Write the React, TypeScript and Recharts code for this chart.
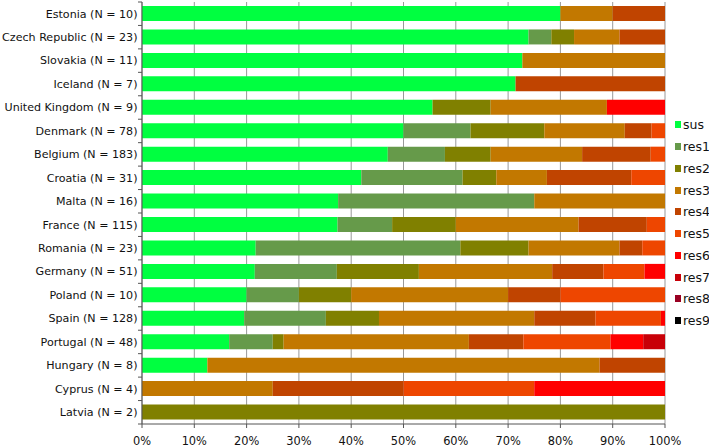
import { BarChart, Bar, XAxis, YAxis, CartesianGrid } from "recharts";

if (typeof document !== "undefined") document.body.style.margin = "0";

const countries = [
  "Estonia", "Czech Republic", "Slovakia", "Iceland", "United Kingdom", "Denmark",
  "Belgium", "Croatia", "Malta", "France", "Romania", "Germany",
  "Poland", "Spain", "Portugal", "Hungary", "Cyprus", "Latvia",
];
const counts = [10, 23, 11, 7, 9, 78, 183, 31, 16, 115, 23, 51, 10, 128, 48, 8, 4, 2];

// number of isolates per category, per country (same order as countries)
const sus = [8, 17, 8, 5, 5, 39, 86, 13, 6, 43, 5, 11, 2, 25, 8, 1, 0, 0];
const res1 = [0, 1, 0, 0, 0, 10, 20, 6, 6, 12, 9, 8, 1, 20, 4, 0, 0, 0];
const res2 = [0, 1, 0, 0, 1, 11, 16, 2, 0, 14, 3, 8, 1, 13, 1, 0, 0, 2];
const res3 = [1, 2, 3, 0, 2, 12, 32, 3, 4, 27, 4, 13, 3, 38, 17, 6, 1, 0];
const res4 = [1, 2, 0, 2, 0, 4, 24, 5, 0, 15, 1, 5, 1, 15, 5, 1, 1, 0];
const res5 = [0, 0, 0, 0, 0, 2, 5, 2, 0, 4, 1, 4, 2, 16, 8, 0, 1, 0];
const res6 = [0, 0, 0, 0, 1, 0, 0, 0, 0, 0, 0, 2, 0, 1, 3, 0, 1, 0];
const res7 = [0, 0, 0, 0, 0, 0, 0, 0, 0, 0, 0, 0, 0, 0, 2, 0, 0, 0];
const res8 = [0, 0, 0, 0, 0, 0, 0, 0, 0, 0, 0, 0, 0, 0, 0, 0, 0, 0];
const res9 = [0, 0, 0, 0, 0, 0, 0, 0, 0, 0, 0, 0, 0, 0, 0, 0, 0, 0];

const seriesNames = ["sus", "res1", "res2", "res3", "res4", "res5", "res6", "res7", "res8", "res9"];
const seriesValues = [sus, res1, res2, res3, res4, res5, res6, res7, res8, res9];
const colors = [
  "#00ff40", "#669a4a", "#808000", "#c27800", "#c04400",
  "#ee4600", "#ff0000", "#c80008", "#990022", "#000000",
];
const xTicks = [0, 0.1, 0.2, 0.3, 0.4, 0.5, 0.6, 0.7, 0.8, 0.9, 1];

const data = countries.map((c, i) => {
  const row: Record<string, string | number> = { name: `${c} (N = ${counts[i]})` };
  seriesNames.forEach((s, j) => (row[s] = seriesValues[j][i]));
  return row;
});

const W = 709;
const H = 448;
const TOP = 2;
const XH = 24;
const band = (H - TOP - XH) / countries.length;
const font = "'DejaVu Sans', Verdana, sans-serif";

const YTick = (props: any) => {
  const { x, y, payload, index } = props;
  const ax = x + 5;
  return (
    <g>
      {index === 0 && <line x1={ax - 4} x2={ax} y1={y - band / 2} y2={y - band / 2} stroke="#555" />}
      <line x1={ax - 4} x2={ax} y1={y + band / 2} y2={y + band / 2} stroke="#555" />
      <text x={x + 0.5} y={y} dy="0.35em" textAnchor="end" fontSize={11.1} fontFamily={font} fill="#111">
        {payload.value}
      </text>
    </g>
  );
};

export default function App() {
  return (
    <div style={{ position: "relative", width: W, height: H, background: "#fff" }}>
      <BarChart
        width={W}
        height={H}
        data={data}
        layout="vertical"
        stackOffset="expand"
        margin={{ top: TOP, right: 44, bottom: 0, left: 0 }}
      >
        <CartesianGrid horizontal={false} stroke="#999" />
        <XAxis
          type="number"
          domain={[0, 1]}
          ticks={xTicks}
          height={XH}
          tickSize={4}
          tickMargin={9}
          stroke="#555"
          tickFormatter={(v: number) => `${Math.round(v * 100)}%`}
          tick={{ fontSize: 11.4, fontFamily: font, fill: "#111" }}
        />
        <YAxis
          type="category"
          dataKey="name"
          width={142}
          tickSize={0}
          tickMargin={5}
          stroke="#555"
          interval={0}
          tick={<YTick />}
        />
        {seriesNames.map((s, j) => (
          <Bar key={s} dataKey={s} stackId="a" fill={colors[j]} barSize={15} isAnimationActive={false} />
        ))}
      </BarChart>
      <div style={{ position: "absolute", left: 675, top: 114, fontFamily: font, fontSize: 12.5, color: "#111" }}>
        {seriesNames.map((s, j) => (
          <div key={s} style={{ display: "flex", alignItems: "center", height: 21.75 }}>
            <span style={{ width: 6, height: 7, background: colors[j], marginRight: 2, display: "inline-block" }} />
            <span>{s}</span>
          </div>
        ))}
      </div>
    </div>
  );
}
